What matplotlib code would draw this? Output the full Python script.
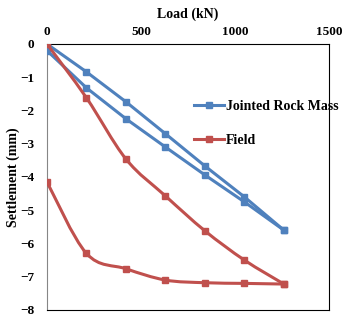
import numpy as np
import matplotlib
matplotlib.use('Agg')
import matplotlib.pyplot as plt
from matplotlib.path import Path
from matplotlib.patches import PathPatch
from matplotlib.lines import Line2D

# load steps (kN)
load = [0, 210, 420, 630, 840, 1050, 1260]
# jointed rock mass: loading and unloading branches
rock_a = [0.0, -0.84, -1.74, -2.70, -3.67, -4.60, -5.60]
rock_b = [-0.20, -1.32, -2.25, -3.10, -3.94, -4.75, -5.60]
# field: loading and unloading branches
field_load = [0.0, -1.62, -3.46, -4.57, -5.62, -6.50, -7.22]
field_unload = [-4.15, -6.30, -6.76, -7.10, -7.18, -7.20, -7.22]

blue = '#4F81BD'
red = '#C0504D'
font = 'Liberation Serif'


def smooth_path(xs, ys, sx, sy):
    # catmull-rom style bezier, done in pixel-like space
    px = np.array(xs) * sx
    py = np.array(ys) * sy
    verts = [(px[0], py[0])]
    codes = [Path.MOVETO]
    n = len(px)
    for i in range(n - 1):
        p0 = (px[max(i - 1, 0)], py[max(i - 1, 0)])
        p1 = (px[i], py[i])
        p2 = (px[i + 1], py[i + 1])
        p3 = (px[min(i + 2, n - 1)], py[min(i + 2, n - 1)])
        c1 = (p1[0] + (p2[0] - p0[0]) / 6, p1[1] + (p2[1] - p0[1]) / 6)
        c2 = (p2[0] - (p3[0] - p1[0]) / 6, p2[1] - (p3[1] - p1[1]) / 6)
        verts += [c1, c2, p2]
        codes += [Path.CURVE4] * 3
    verts = [(v[0] / sx, v[1] / sy) for v in verts]
    return Path(verts, codes)


fig = plt.figure(figsize=(3.52, 3.22), dpi=100)
ax = fig.add_axes([0.1335, 0.0373, 0.8012, 0.8261])

sx = 282 / 1500.0
sy = 266 / 8.0

ax.plot(load, rock_a, color=blue, lw=2.2, marker='s', ms=5, zorder=3)
ax.plot(load, rock_b, color=blue, lw=2.2, marker='s', ms=5, zorder=3)

for ys in [field_load, field_unload]:
    ax.add_patch(PathPatch(smooth_path(load, ys, sx, sy), fill=False,
                           edgecolor=red, lw=2.2, zorder=3))
    ax.plot(load, ys, ls='none', marker='s', ms=5, color=red, zorder=4)

ax.set_xlim(0, 1500)
ax.set_ylim(-8, 0)
ax.set_xticks([0, 500, 1000, 1500])
ax.set_yticks(range(-8, 1))
ax.xaxis.tick_top()
ax.xaxis.set_label_position('top')
ax.tick_params(axis='x', length=0, labelsize=9.5, pad=4)
ax.tick_params(axis='y', length=0, labelsize=9.5, pad=9)
for lab in ax.get_xticklabels() + ax.get_yticklabels():
    lab.set_fontfamily(font)
    lab.set_fontweight('bold')
ax.set_xlabel('Load (kN)', fontfamily=font, fontweight='bold', fontsize=10, labelpad=6)
ax.set_ylabel('Settlement (mm)', fontfamily=font, fontweight='bold', fontsize=10, labelpad=0)
ax.spines['left'].set_color('#868686')
for s in ['top', 'right', 'bottom']:
    ax.spines[s].set_color('black')

handles = [Line2D([], [], color=blue, lw=2.2, marker='s', ms=5),
           Line2D([], [], color=red, lw=2.2, marker='s', ms=5)]
ax.legend(handles, ['Jointed Rock Mass', 'Field'], loc='upper left',
          bbox_to_anchor=(0.5, 0.81), frameon=False, handlelength=2.2,
          handletextpad=0.1, labelspacing=1.5, borderaxespad=0,
          prop={'family': font, 'weight': 'bold', 'size': 10})

fig.savefig('out.png', dpi=100)
